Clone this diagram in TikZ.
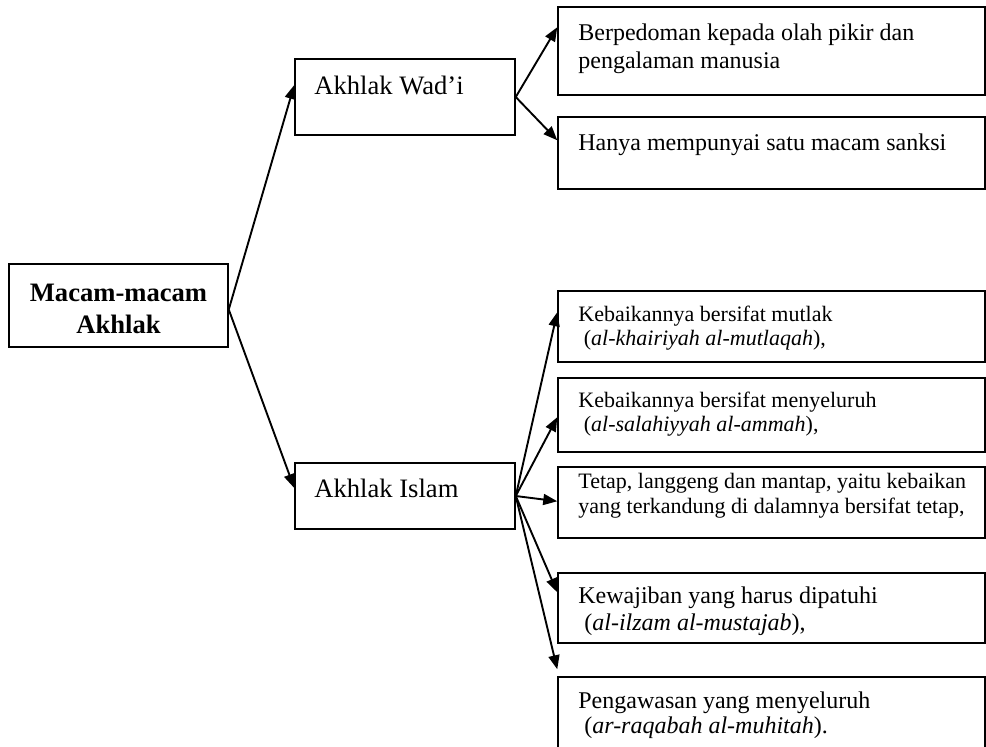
\documentclass[tikz,border=0pt]{standalone}
\usepackage{fontspec}
\setmainfont{Liberation Serif}
\usetikzlibrary{arrows.meta,fit}
\begin{document}
\begin{tikzpicture}[x=0.5pt,y=-0.5pt,
  box/.style={draw, line width=0.75pt, inner sep=0pt},
  lbl/.style={anchor=base west, inner sep=0pt, font=\fontsize{12}{14}\selectfont},
  sml/.style={anchor=base west, inner sep=0pt, font=\fontsize{11}{13}\selectfont},
  big/.style={anchor=base west, inner sep=0pt, font=\fontsize{13.3}{16}\selectfont},
  ttl/.style={anchor=base, inner sep=0pt, font=\bfseries\fontsize{13.3}{16}\selectfont},
  arr/.style={-{Triangle[length=7pt,width=5.5pt]}, line width=0.95pt}]
\path[use as bounding box, clip] (0,0) rectangle (986,746);

% main node
\node[box, fit={(9,264) (228,347)}] (main) {};
\node[ttl] (m1) at (118.5,301) {Macam-macam};
\node[ttl] (m2) at (118.5,333) {Akhlak};

% second level
\node[box, fit={(295,59) (515,135)}] (wadi) {};
\node[big] (wadit) at (314,94) {Akhlak Wad’i};
\node[box, fit={(295,463) (515,529)}] (islam) {};
\node[big] (islamt) at (314,497) {Akhlak Islam};

% third level (Wad'i)
\node[box, fit={(558,7) (985,95)}] (b1) {};
\node[lbl] (b1a) at (578,40) {Berpedoman kepada olah pikir dan};
\node[lbl] (b1b) at (578,68) {pengalaman manusia};
\node[box, fit={(558,117) (985,189)}] (b2) {};
\node[lbl] (b2a) at (578,150) {Hanya mempunyai satu macam sanksi};

% third level (Islam)
\node[box, fit={(558,291) (985,362)}] (b3) {};
\node[sml] (b3a) at (578,321) {Kebaikannya bersifat mutlak};
\node[sml] (b3b) at (578,345) {\hspace*{.25em}(\textit{al-khairiyah al-mutlaqah}),};
\node[box, fit={(558,378) (985,452)}] (b4) {};
\node[sml] (b4a) at (578,407) {Kebaikannya bersifat menyeluruh};
\node[sml] (b4b) at (578,431) {\hspace*{.25em}(\textit{al-salahiyyah al-ammah}),};
\node[box, fit={(558,467) (985,538)}] (b5) {};
\node[sml] (b5a) at (578,488) {Tetap, langgeng dan mantap, yaitu kebaikan};
\node[sml] (b5b) at (578,513) {yang terkandung di dalamnya bersifat tetap,};
\node[box, fit={(558,573) (985,643)}] (b6) {};
\node[lbl] (b6a) at (578,603) {Kewajiban yang harus dipatuhi};
\node[lbl] (b6b) at (578,630) {\hspace*{.25em}(\textit{al-ilzam al-mustajab}),};
\node[box, fit={(558,677) (985,770)}] (b7) {};
\node[lbl] (b7a) at (578,708) {Pengawasan yang menyeluruh};
\node[lbl] (b7b) at (578,733) {\hspace*{.25em}(\textit{ar-raqabah al-muhitah}).};

% connectors
\draw[arr] ([yshift=-2pt]main.east) -- ([yshift=6pt]wadi.west);
\draw[arr] ([yshift=-2pt]main.east) -- ([yshift=4pt]islam.west);
\draw[arr] (wadi.east) -- ([yshift=-10.5pt]b1.north west);
\draw[arr] (wadi.east) -- ([yshift=-12pt]b2.north west);
\draw[arr] (islam.east) -- ([yshift=-11pt]b3.north west);
\draw[arr] (islam.east) -- ([yshift=-20pt]b4.north west);
\draw[arr] (islam.east) -- ([yshift=-17.5pt]b5.north west);
\draw[arr] (islam.east) -- ([yshift=-10pt]b6.north west);
\draw[arr] (islam.east) -- ([yshift=3.5pt]b7.north west);
\end{tikzpicture}
\end{document}
